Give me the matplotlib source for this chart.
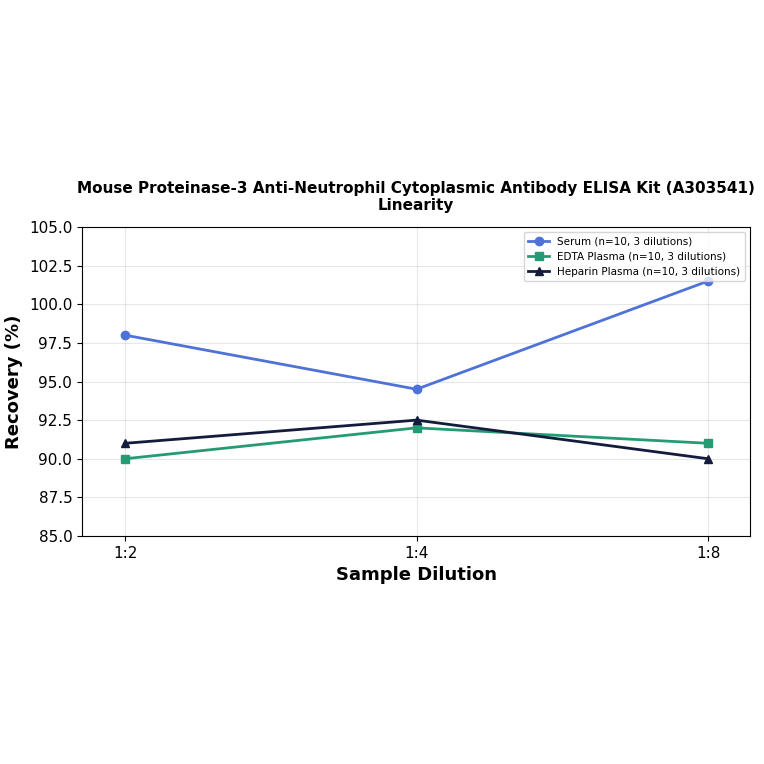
import matplotlib
matplotlib.use("Agg")
import matplotlib.pyplot as plt

dilutions = ["1:2", "1:4", "1:8"]
serum = [98.0, 94.5, 101.5]
edta = [90.0, 92.0, 91.0]
heparin = [91.0, 92.5, 90.0]

fig = plt.figure(figsize=(7.64, 7.64), dpi=100)
ax = fig.add_axes([82 / 764, 1 - 536 / 764, (750 - 82) / 764, (536 - 227) / 764])

x = range(len(dilutions))
ax.plot(x, serum, marker="o", color="#4f72d9", lw=2, ms=6,
        label="Serum (n=10, 3 dilutions)")
ax.plot(x, edta, marker="s", color="#259b74", lw=2, ms=6,
        label="EDTA Plasma (n=10, 3 dilutions)")
ax.plot(x, heparin, marker="^", color="#131c3d", lw=2, ms=6,
        label="Heparin Plasma (n=10, 3 dilutions)")

ax.set_xticks(list(x))
ax.set_xticklabels(dilutions)
ax.set_xlim(-0.148, 2.144)
ax.set_ylim(85, 105)
ax.set_yticks([85 + 2.5 * i for i in range(9)])
ax.tick_params(labelsize=11)
ax.grid(True, alpha=0.3)
ax.set_xlabel("Sample Dilution", fontsize=13, fontweight="bold")
ax.set_ylabel("Recovery (%)", fontsize=13, fontweight="bold")
ax.set_title("Mouse Proteinase-3 Anti-Neutrophil Cytoplasmic Antibody ELISA Kit (A303541)\nLinearity",
             fontsize=11, fontweight="bold", pad=12)
ax.legend(loc="upper right", fontsize=7.5)

fig.savefig("out.png", dpi=100)
